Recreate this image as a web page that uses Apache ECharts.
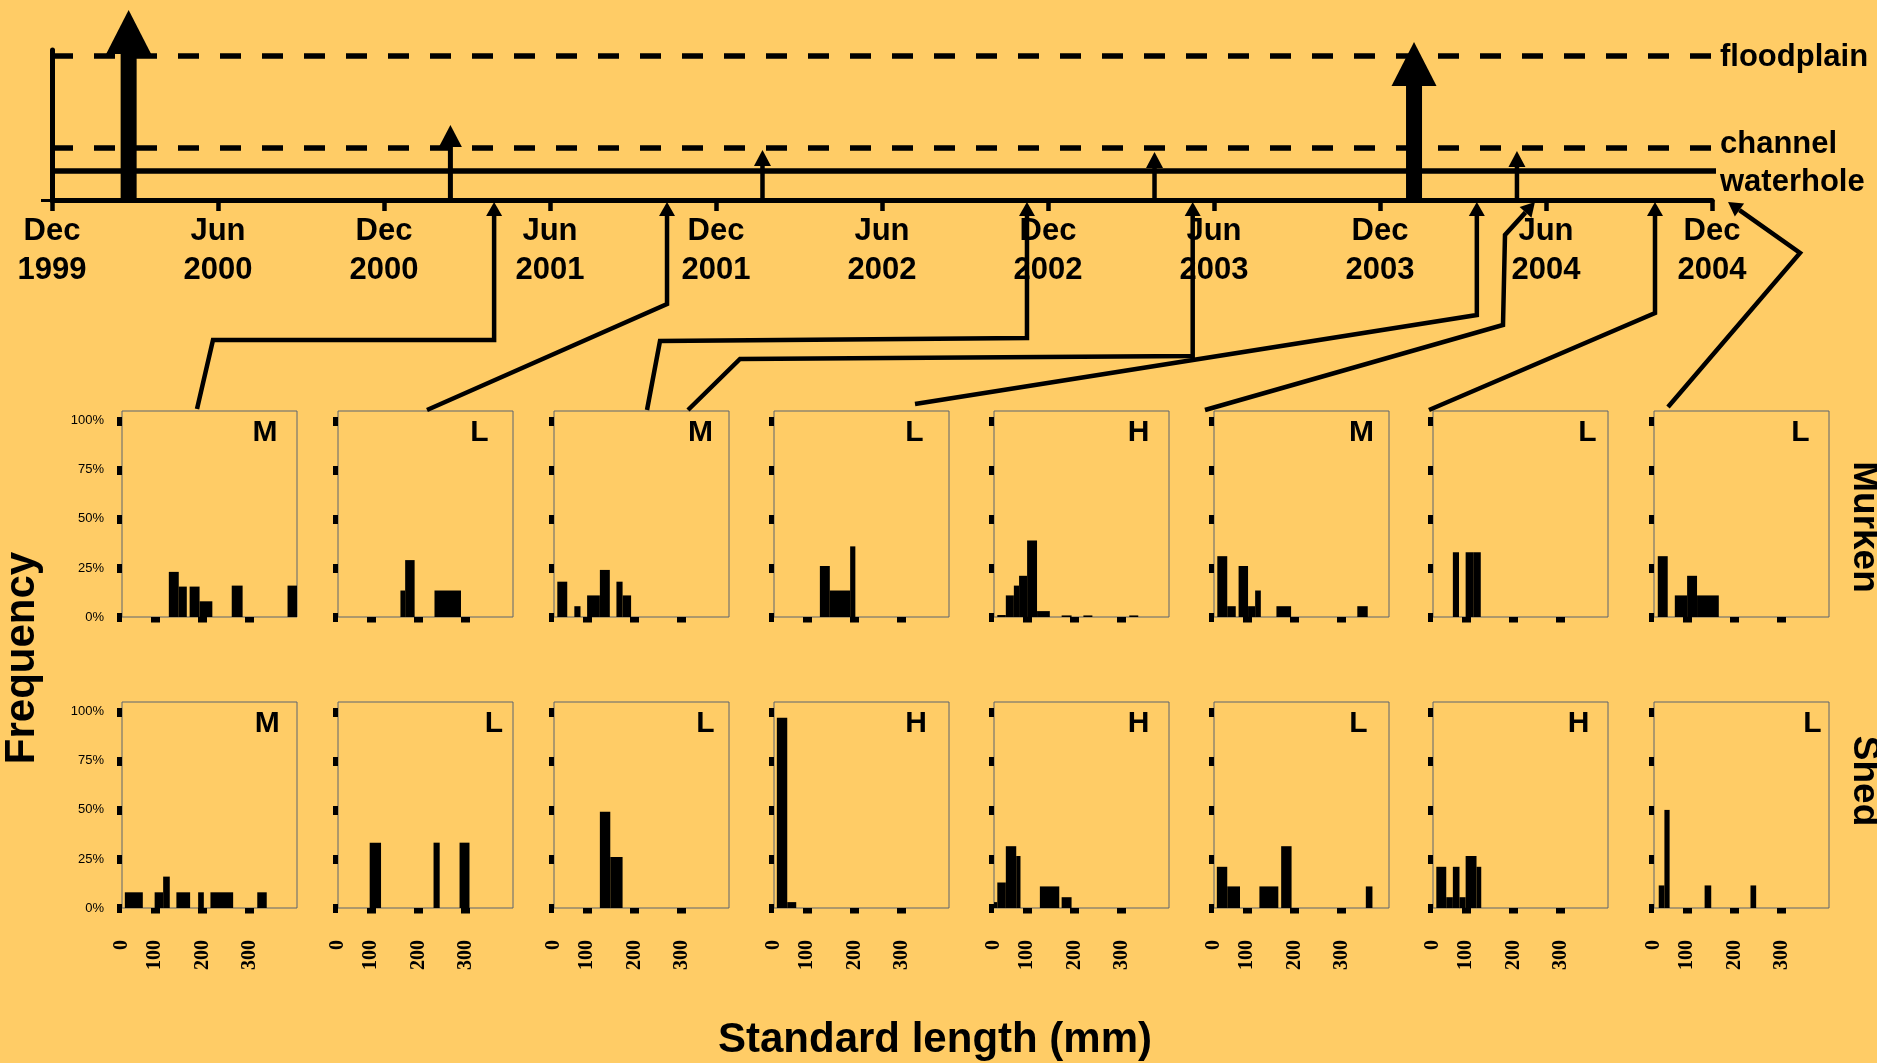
<!DOCTYPE html>
<html><head><meta charset="utf-8">
<script src="https://cdn.jsdelivr.net/npm/echarts@6/dist/echarts.min.js"></script>
<style>html,body{margin:0;padding:0;background:#FFCC66;}#c{width:1877px;height:1063px;}</style>
</head><body><div id="c"></div>
<script>
// ---------------- DATA ----------------
// Timeline (months since Dec 1999)
const timelineTickMonths = [0, 6, 12, 18, 24, 30, 36, 42, 48, 54, 60];
const timelineTickLabels = ['Dec\n1999','Jun\n2000','Dec\n2000','Jun\n2001','Dec\n2001','Jun\n2002','Dec\n2002','Jun\n2003','Dec\n2003','Jun\n2004','Dec\n2004'];
const levelNames = ['floodplain', 'channel', 'waterhole'];
const levelHeights = [5.76, 2.08, 1.16];
const floodMonths = [2.77, 14.4, 25.68, 39.85, 49.23, 52.95];
const floodPeaks = [7.6, 3.0, 2.0, 1.92, 6.32, 1.96];
const floodClasses = ['large', 'medium', 'small', 'small', 'large', 'small'];
const sampleMonths = [15.98, 22.23, 35.24, 41.23, 51.5, 53.6, 57.94, 60.58];

// Flow class of each sample
const murkenFlow = ['M', 'L', 'M', 'L', 'H', 'M', 'L', 'L'];
const shedFlow = ['M', 'L', 'L', 'H', 'H', 'L', 'H', 'L'];

// Length-frequency bars: [from mm, to mm, frequency %]
const murken1 = [[129,150,23],[150,167,15.5],[173,194,15.5],[194,221,8],[262,285,16],[380,400,16]];
const murken2 = [[162,172,13.5],[172,192,29],[234,290,13.5]];
const murken3 = [[37,58,18],[73,86,5.5],[100,127,11],[127,148,24],[162,175,18],[175,193,11]];
const murken4 = [[127,148,26],[148,191,13.5],[191,202,36]];
const murken5 = [[37,55,1],[55,72,11],[72,83,16],[83,100,21],[100,121,39],[121,148,3],[173,194,0.8],[219,238,0.8],[316,335,0.8]];
const murken6 = [[37,58,31],[58,76,5.5],[82,102,26],[102,117,5.5],[117,129,13.5],[162,193,5.5],[333,355,5.5]];
const murken7 = [[72,85,33],[99,115,33],[115,131,33]];
const murken8 = [[38,59,31],[74,100,11],[100,121,21],[121,167,11]];
const shed1 = [[36,74,8],[99,117,8],[117,131,16],[145,174,8],[191,203,8],[217,265,8],[316,336,8]];
const shed2 = [[97,121,33.3],[232,245,33.3],[287,308,33.3]];
const shed3 = [[127,149,49],[149,175,26]];
const shed4 = [[36,58,97],[58,77,3]];
const shed5 = [[30,37,3],[37,55,13],[55,77,31.5],[77,86,26.5],[127,168,11],[173,194,5.5]];
const shed6 = [[36,58,21],[58,85,11],[126,166,11],[172,194,31.5],[351,365,11]];
const shed7 = [[37,58,21],[58,72,5.5],[72,86,21],[86,99,5.5],[99,122,26.5],[122,132,21]];
const shed8 = [[40,52,11.5],[52,63,50],[137,151,11.5],[234,246,11.5]];

// Axis ticks of the small panels
const lengthTickValues = [30, 100, 200, 300];
const lengthTickLabels = ['0', '100', '200', '300'];
const freqTickValues = [0, 25, 50, 75, 100];

// ---------------- LAYOUT / STYLE ----------------
const BG = '#FFCC66';
const SANS = "'Liberation Sans', Arial, sans-serif";
const SERIF = "'Liberation Serif', 'Times New Roman', serif";
const TL = {left: 52, top: 50, width: 1660, height: 150};
const panelLefts = [122, 338, 554, 774, 994, 1214, 1433, 1654];
const rowTops = [411, 702];
const panelW = 175, panelH = 206;
const letterOffsets = [[143,141.5,146.5,140.5,144.5,147.5,154.5,146.5],[145.3,156,151.5,142,144.5,144.5,145.5,158.5]];
const letterDy = 22;
const arrowStyles = {large:{shaft:16, headW:45, headLen:44}, medium:{shaft:5, headW:23, headLen:22}, small:{shaft:4.5, headW:17, headLen:16}};
const levelLabelDy = [1.6, -4, 11];
const leaderPaths = [
  [[197,409],[213,340],[494,340]],
  [[427,410],[668,304]],
  [[647,410],[660,341],[1027,338]],
  [[688,410],[740,359],[1193,356]],
  [[915,404],[1477,315]],
  [[1205,410],[1503,325],[1505,235]],
  [[1429,410],[1650,313]],
  [[1668,407],[1800,253]]
];
const leaderVertical = [true, true, true, true, true, false, true, false];

const murkenData = [murken1, murken2, murken3, murken4, murken5, murken6, murken7, murken8];
const shedData = [shed1, shed2, shed3, shed4, shed5, shed6, shed7, shed8];

// ---------------- BUILD ----------------
const chart = echarts.init(document.getElementById('c'), null, {renderer: 'canvas'});
const grids = [], xAxes = [], yAxes = [], series = [];

grids.push({left: TL.left, top: TL.top, width: TL.width, height: TL.height, show: false});
xAxes.push({type: 'value', gridIndex: 0, min: 0, max: 60,
  axisLine: {show: true, onZero: false, lineStyle: {color: '#000', width: 5}},
  axisTick: {show: true, customValues: timelineTickMonths, length: 11, lineStyle: {color: '#000', width: 4.5}},
  axisLabel: {show: true, customValues: timelineTickMonths, margin: 12, lineHeight: 39,
    formatter: v => timelineTickLabels[timelineTickMonths.indexOf(v)],
    color: '#000', fontFamily: SANS, fontWeight: 'bold', fontSize: 31},
  splitLine: {show: false}});
yAxes.push({type: 'value', gridIndex: 0, min: 0, max: 6,
  axisLine: {show: true, lineStyle: {color: '#000', width: 5}},
  axisTick: {show: true, customValues: [0], length: 11, lineStyle: {color: '#000', width: 3}},
  axisLabel: {show: false}, splitLine: {show: false}});

levelNames.forEach((name, i) => {
  series.push({type: 'line', xAxisIndex: 0, yAxisIndex: 0, clip: false, silent: true, symbol: 'none',
    data: [[0, levelHeights[i]], [60.15, levelHeights[i]]],
    lineStyle: {color: '#000', width: 5.5, type: name === 'waterhole' ? 'solid' : [21, 21]},
    endLabel: {show: true, formatter: name, color: '#000', fontFamily: SANS, fontWeight: 'bold', fontSize: 31,
      distance: 4, offset: [0, levelLabelDy[i]]}, z: 3});
});

series.push({type: 'custom', xAxisIndex: 0, yAxisIndex: 0, clip: false, silent: true, z: 5,
  data: floodMonths.map((m, i) => [m, floodPeaks[i]]),
  encode: {x: 0, y: 1},
  renderItem: (params, api) => {
    const s = arrowStyles[floodClasses[params.dataIndex]];
    const base = api.coord([api.value(0), 0]);
    const tip = api.coord([api.value(0), api.value(1)]);
    const x = base[0], hb = tip[1] + s.headLen;
    return {type: 'group', children: [
      {type: 'rect', shape: {x: x - s.shaft / 2, y: hb - 1, width: s.shaft, height: base[1] - hb + 1}, style: {fill: '#000'}},
      {type: 'polygon', shape: {points: [[x, tip[1]], [x - s.headW / 2, hb], [x + s.headW / 2, hb]]}, style: {fill: '#000'}}
    ]};
  }});

function histRender(params, api) {
  const a = api.coord([api.value(0), api.value(2)]);
  const b = api.coord([api.value(1), 0]);
  return {type: 'rect', shape: {x: a[0], y: a[1], width: b[0] - a[0], height: b[1] - a[1]}, style: {fill: '#000'}};
}

[murkenData, shedData].forEach((rowData, r) => {
  rowData.forEach((bars, p) => {
    const gi = grids.length;
    grids.push({left: panelLefts[p], top: rowTops[r], width: panelW, height: panelH, show: true,
      borderColor: '#5c6470', borderWidth: 1, backgroundColor: 'transparent'});
    xAxes.push({type: 'value', gridIndex: gi, min: 30, max: 400,
      axisLine: {show: false},
      axisTick: {show: true, customValues: [100, 200, 300], length: 5.5, lineStyle: {color: '#000', width: 9}},
      axisLabel: {show: r === 1, customValues: lengthTickValues, rotate: 90, margin: 32,
        formatter: v => lengthTickLabels[lengthTickValues.indexOf(v)],
        color: '#000', fontFamily: SERIF, fontWeight: 'bold', fontSize: 20},
      splitLine: {show: false}});
    yAxes.push({type: 'value', gridIndex: gi, min: 0, max: 105,
      axisLine: {show: false},
      axisTick: {show: true, customValues: freqTickValues, length: 5, lineStyle: {color: '#000', width: 9}},
      axisLabel: {show: p === 0, customValues: freqTickValues, margin: 18, padding: [0, 0, 12, 0],
        formatter: v => v + '%', color: '#000', fontFamily: SANS, fontSize: 13},
      splitLine: {show: false}});
    series.push({type: 'custom', xAxisIndex: gi, yAxisIndex: gi, silent: true, clip: true,
      data: bars, encode: {x: [0, 1], y: 2}, renderItem: histRender});
  });
});

chart.setOption({backgroundColor: BG, animation: false, grid: grids, xAxis: xAxes, yAxis: yAxes, series: series});

// ---------------- ANNOTATIONS ----------------
const graphics = [];
const headLen = 14, headW = 16;
sampleMonths.forEach((m, i) => {
  const tip = chart.convertToPixel({gridIndex: 0}, [m, 0]);
  tip[1] += 2;
  const pts = leaderPaths[i].map(q => q.slice());
  if (leaderVertical[i]) pts[pts.length - 1][0] = tip[0];
  const last = pts[pts.length - 1];
  const dx = tip[0] - last[0], dy = tip[1] - last[1];
  const L = Math.hypot(dx, dy), ux = dx / L, uy = dy / L;
  const hb = [tip[0] - ux * headLen, tip[1] - uy * headLen];
  pts.push(hb);
  graphics.push({type: 'polyline', shape: {points: pts}, style: {stroke: '#000', lineWidth: 4.5, fill: null, lineJoin: 'miter'}, z: 20, silent: true});
  graphics.push({type: 'polygon', shape: {points: [tip, [hb[0] - uy * headW / 2, hb[1] + ux * headW / 2], [hb[0] + uy * headW / 2, hb[1] - ux * headW / 2]]},
    style: {fill: '#000'}, z: 20, silent: true});
});

[murkenFlow, shedFlow].forEach((flows, r) => {
  flows.forEach((f, p) => {
    graphics.push({type: 'text', x: panelLefts[p] + letterOffsets[r][p], y: rowTops[r] + letterDy, z: 20, silent: true,
      style: {text: f, fill: '#000', font: 'bold 30px ' + SANS, align: 'center', verticalAlign: 'middle'}});
  });
});

graphics.push({type: 'text', x: 22, y: 658, rotation: Math.PI / 2, z: 20, silent: true,
  style: {text: 'Frequency', fill: '#000', font: 'bold 42px ' + SANS, align: 'center', verticalAlign: 'middle'}});
graphics.push({type: 'text', x: 935, y: 1040, z: 20, silent: true,
  style: {text: 'Standard length (mm)', fill: '#000', font: 'bold 42px ' + SANS, align: 'center', verticalAlign: 'middle'}});
graphics.push({type: 'text', x: 1864, y: 527, rotation: -Math.PI / 2, z: 20, silent: true,
  style: {text: 'Murken', fill: '#000', font: 'bold 37px ' + SANS, align: 'center', verticalAlign: 'middle'}});
graphics.push({type: 'text', x: 1864, y: 781, rotation: -Math.PI / 2, z: 20, silent: true,
  style: {text: 'Shed', fill: '#000', font: 'bold 37px ' + SANS, align: 'center', verticalAlign: 'middle'}});

chart.setOption({graphic: graphics});
</script>
</body></html>
